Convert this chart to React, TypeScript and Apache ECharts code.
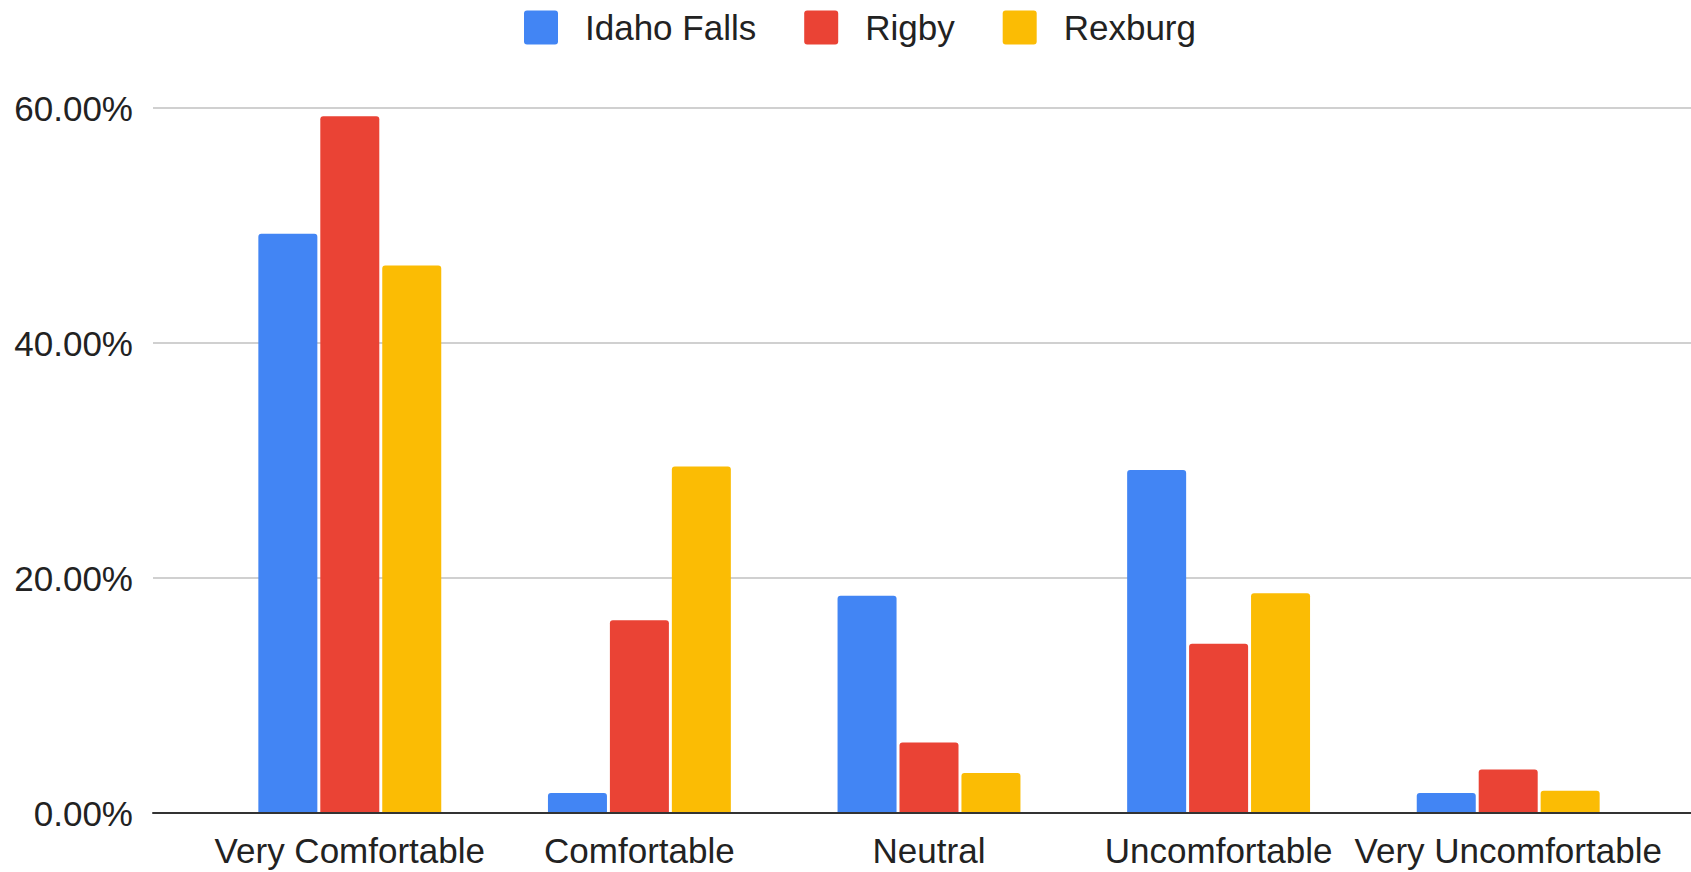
import React, { useEffect, useRef } from "react";
import * as echarts from "echarts";

const categories = ["Very Comfortable", "Comfortable", "Neutral", "Uncomfortable", "Very Uncomfortable"];
const idahoFalls = [49.3, 1.7, 18.5, 29.2, 1.7];
const rigby = [59.3, 16.4, 6.0, 14.4, 3.7];
const rexburg = [46.6, 29.5, 3.4, 18.7, 1.9];
const seriesNames = ["Idaho Falls", "Rigby", "Rexburg"];
const colors = ["#4285F4", "#EA4335", "#FBBC04"];
const yMin = 0;
const yMax = 60;
const yStep = 20;

const FONT = "'Liberation Sans', Arial, sans-serif";
const ICON = "path://M3,0 H31 Q34,0 34,3 V31 Q34,34 31,34 H3 Q0,34 0,31 V3 Q0,0 3,0 Z";

export default function App() {
  const ref = useRef<HTMLDivElement>(null);
  useEffect(() => {
    if (!ref.current) return;
    const chart = echarts.init(ref.current, undefined, { renderer: "svg" });
    const data = [idahoFalls, rigby, rexburg];
    chart.setOption({
      animation: false,
      backgroundColor: "#ffffff",
      textStyle: { fontFamily: FONT },
      legend: {
        left: 519,
        top: 5,
        itemWidth: 34,
        itemHeight: 34,
        itemGap: 48,
        icon: ICON,
        data: seriesNames,
        textStyle: { fontSize: 35, color: "#222", fontFamily: FONT, padding: [0, 0, 0, 22] },
      },
      grid: [
        { left: 153, right: 0, top: 108, bottom: 59 },
        { left: 205, right: 38, top: 108, bottom: 59 },
      ],
      xAxis: [
        {
          gridIndex: 0,
          type: "value",
          min: 0,
          max: 1,
          axisLine: { show: true, onZero: false, lineStyle: { color: "#333", width: 2 } },
          axisTick: { show: false },
          axisLabel: { show: false },
          splitLine: { show: false },
          z: 3,
        },
        {
          gridIndex: 1,
          type: "category",
          data: categories,
          axisLine: { show: false },
          axisTick: { show: false },
          axisLabel: { interval: 0, margin: 20, fontSize: 35, color: "#222", fontFamily: FONT },
        },
      ],
      yAxis: [
        {
          gridIndex: 0,
          type: "value",
          min: yMin,
          max: yMax,
          interval: yStep,
          axisLine: { show: false },
          axisTick: { show: false },
          axisLabel: {
            margin: 20,
            fontSize: 35,
            color: "#222",
            fontFamily: FONT,
            formatter: (v: number) => v.toFixed(2) + "%",
          },
          splitLine: { lineStyle: { color: "#d0d0d0", width: 2 } },
        },
        {
          gridIndex: 1,
          type: "value",
          min: yMin,
          max: yMax,
          interval: yStep,
          show: false,
          splitLine: { show: false },
        },
      ],
      series: seriesNames.map((name, i) => ({
        name,
        type: "bar",
        xAxisIndex: 1,
        yAxisIndex: 1,
        data: data[i],
        barWidth: 59,
        barGap: "5%",
        itemStyle: { color: colors[i], borderRadius: [3, 3, 0, 0] },
      })),
    });
    return () => chart.dispose();
  }, []);
  return (
    <div
      ref={ref}
      style={{ position: "fixed", left: 0, top: 0, width: 1691, height: 872 }}
    />
  );
}
